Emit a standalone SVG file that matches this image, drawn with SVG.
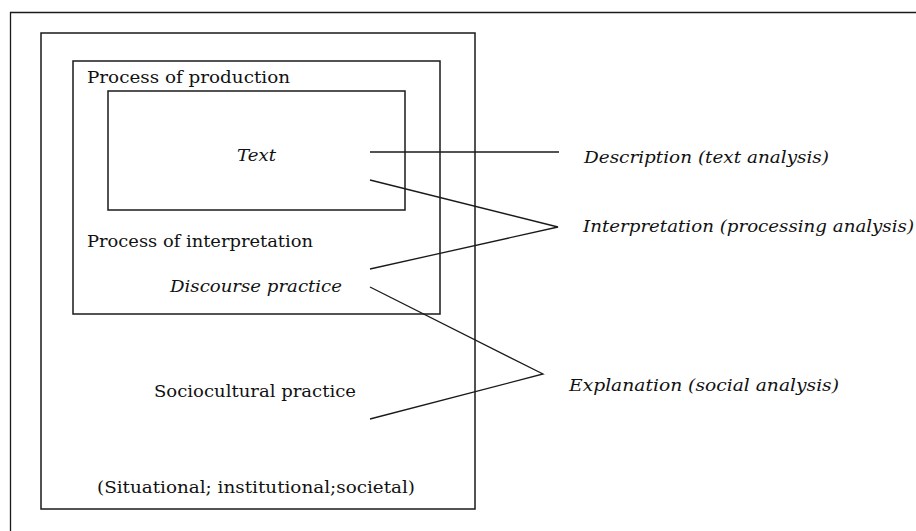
<svg xmlns="http://www.w3.org/2000/svg" width="916" height="531" viewBox="0 0 916 531">
<style>
.box{fill:none;stroke:#1a1a1a;stroke-width:1.5}
.ln{fill:none;stroke:#1a1a1a;stroke-width:1.3}
.t{font-family:"DejaVu Serif","Liberation Serif",serif;font-size:16.5px;fill:#111}
.i{font-style:italic}
</style>
<rect width="916" height="531" fill="#fff"/>
<g id="frame"><path class="ln" d="M10.5 531V12.5H916" stroke-width="1"/></g>
<g id="sociocultural">
<rect class="box" x="41" y="33" width="434" height="476"/>
<text class="t" x="154" y="397" textLength="202" lengthAdjust="spacingAndGlyphs">Sociocultural practice</text>
<text class="t" x="97" y="493" textLength="318" lengthAdjust="spacingAndGlyphs">(Situational; institutional;societal)</text>
</g>
<g id="discourse">
<rect class="box" x="73" y="61" width="367" height="253"/>
<text class="t" x="87" y="83" textLength="203" lengthAdjust="spacingAndGlyphs">Process of production</text>
<text class="t" x="87" y="247" textLength="226" lengthAdjust="spacingAndGlyphs">Process of interpretation</text>
<text class="t i" x="170" y="292" textLength="172" lengthAdjust="spacingAndGlyphs">Discourse practice</text>
</g>
<g id="text">
<rect class="box" x="108" y="91" width="297" height="119"/>
<text class="t i" x="237" y="161" textLength="39" lengthAdjust="spacingAndGlyphs">Text</text>
</g>
<g id="connectors">
<path class="ln" d="M370 152H559"/>
<path class="ln" d="M370 180L558 227L370 269"/>
<path class="ln" d="M370 287L543 374L370 419"/>
</g>
<g id="description"><text class="t i" x="584" y="163" textLength="245" lengthAdjust="spacingAndGlyphs">Description (text analysis)</text></g>
<g id="interpretation"><text class="t i" x="583" y="232" textLength="331" lengthAdjust="spacingAndGlyphs">Interpretation (processing analysis)</text></g>
<g id="explanation"><text class="t i" x="569" y="391" textLength="270" lengthAdjust="spacingAndGlyphs">Explanation (social analysis)</text></g>
</svg>
